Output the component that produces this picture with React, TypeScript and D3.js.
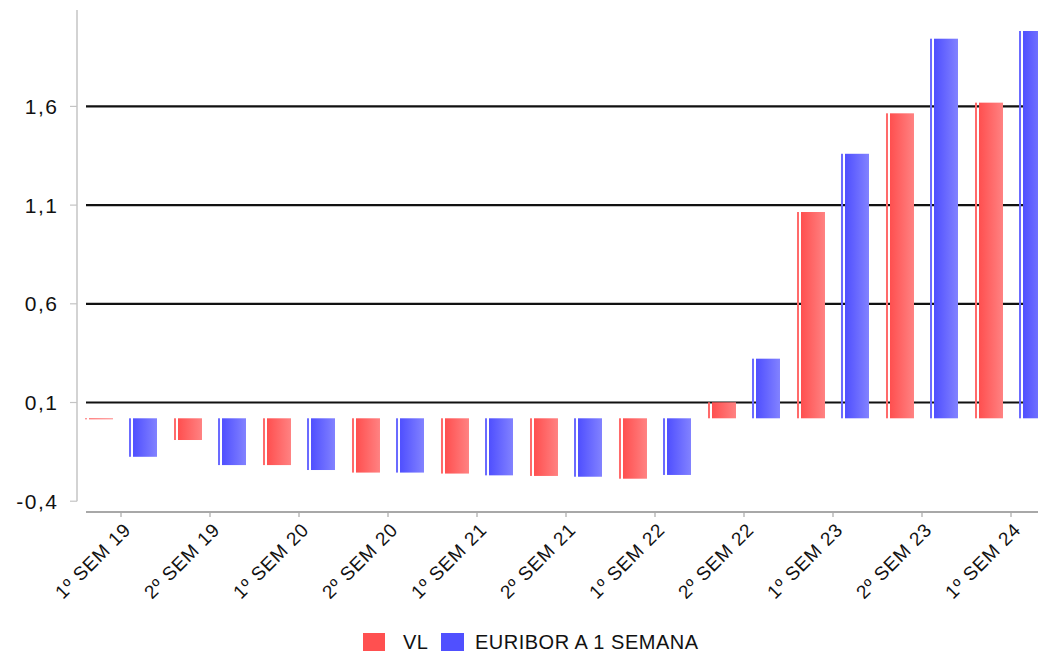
import React from "react";
import * as d3 from "d3";

const categories = [
  "1º SEM 19", "2º SEM 19", "1º SEM 20", "2º SEM 20", "1º SEM 21", "2º SEM 21",
  "1º SEM 22", "2º SEM 22", "1º SEM 23", "2º SEM 23", "1º SEM 24",
];
const vlValues = [-0.005, -0.11, -0.237, -0.275, -0.28, -0.292, -0.306, 0.081, 1.045, 1.545, 1.599];
const euriborValues = [-0.195, -0.237, -0.262, -0.275, -0.289, -0.296, -0.287, 0.302, 1.34, 1.923, 1.962];
const seriesNames = ["VL", "EURIBOR A 1 SEMANA"];
const tickValues = [-0.42, 0.08, 0.58, 1.08, 1.58];
const tickLabels = ["-0,4", "0,1", "0,6", "1,1", "1,6"];

const W = 1038;
const H = 655;
const FONT = "'Liberation Sans', Arial, sans-serif";

const colors = [
  { base: "#ff4f4f", light: "#ff8282", stripe: "#ff6a6a" },
  { base: "#4f4fff", light: "#8282ff", stripe: "#6a6aff" },
];

export default function App() {
  const x = d3.scaleBand<string>().domain(categories).range([76.5, 76.5 + 89 * categories.length]).padding(0);
  const xs = d3.scaleBand<string>().domain(seriesNames).range([0, x.bandwidth()]).paddingInner(0.364).paddingOuter(0.193);
  const y = d3.scaleLinear().domain([-0.4747, 2.0684]).range([512, 10]);
  const series = [vlValues, euriborValues];
  const y0 = y(0);

  return (
    <svg width={W} height={H} style={{ position: "absolute", left: 0, top: 0, background: "#fff" }} fontFamily={FONT}>
      <defs>
        {colors.map((c, i) => (
          <linearGradient key={i} id={`g${i}`} x1="0" x2="1" y1="0" y2="0">
            <stop offset="0%" stopColor={c.base} />
            <stop offset="100%" stopColor={c.light} />
          </linearGradient>
        ))}
      </defs>
      {/* gridlines */}
      {tickValues.slice(1).map((t) => (
        <line key={t} x1={86} x2={W} y1={y(t)} y2={y(t)} stroke="#111" strokeWidth={2.2} />
      ))}
      {/* y axis */}
      <line x1={77} x2={77} y1={10} y2={y(tickValues[0])} stroke="#c4c4c4" strokeWidth={1.5} />
      {tickValues.map((t, i) => (
        <g key={t}>
          <line x1={70} x2={77} y1={y(t)} y2={y(t)} stroke="#c4c4c4" strokeWidth={1.2} />
          <text x={58.5} y={y(t)} dy="0.36em" textAnchor="end" fontSize={21} letterSpacing={1.5} fill="#111">
            {tickLabels[i]}
          </text>
        </g>
      ))}
      {/* x axis */}
      <line x1={86} x2={W} y1={512} y2={512} stroke="#a8a8a8" strokeWidth={2} />
      {categories.map((c) => {
        const cx = (x(c) as number) + x.bandwidth() / 2;
        return (
          <g key={c}>
            <line x1={cx} x2={cx} y1={512} y2={517} stroke="#a8a8a8" strokeWidth={1.2} />
            <text
              transform={`translate(${cx + 11},${531}) rotate(-45)`}
              textAnchor="end"
              fontSize={19}
              letterSpacing={0.8}
              fill="#111"
            >
              {c}
            </text>
          </g>
        );
      })}
      {/* bars */}
      {categories.map((c, ci) =>
        seriesNames.map((s, si) => {
          const v = series[si][ci];
          const bx = (x(c) as number) + (xs(s) as number);
          const bw = xs.bandwidth();
          const top = Math.min(y(v), y0);
          const h = Math.max(1, Math.abs(y(v) - y0));
          return (
            <g key={c + s}>
              <rect x={bx} y={top} width={2} height={h} fill={colors[si].stripe} />
              <rect x={bx + 4} y={top} width={bw - 4} height={h} fill={`url(#g${si})`} />
            </g>
          );
        })
      )}
      {/* legend */}
      <rect x={363} y={633} width={22} height={18} fill="#ff5050" />
      <text x={403} y={649} fontSize={20} letterSpacing={0.5} fill="#111">{seriesNames[0]}</text>
      <rect x={441} y={633} width={23} height={18} fill="#5050ff" />
      <text x={475} y={649} fontSize={20} letterSpacing={0.5} fill="#111">{seriesNames[1]}</text>
    </svg>
  );
}
